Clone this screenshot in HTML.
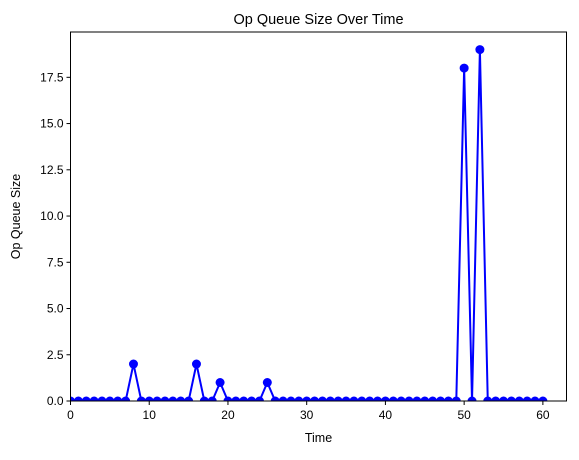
<!DOCTYPE html>
<html><head><meta charset="utf-8"><style>body{margin:0;background:#fff}svg{font-family:"Liberation Sans","DejaVu Sans",sans-serif}</style></head>
<body>
<svg id="c" width="579" height="455" xmlns="http://www.w3.org/2000/svg"></svg>
<script>
const times = Array.from({length:61},(_,i)=>i);
const queueSizes = [0,0,0,0,0,0,0,0,2,0,0,0,0,0,0,0,2,0,0,1,0,0,0,0,0,1,0,0,0,0,0,0,0,0,0,0,0,0,0,0,0,0,0,0,0,0,0,0,0,0,18,0,19,0,0,0,0,0,0,0,0];
const xTicks = [0,10,20,30,40,50,60];
const yTicks = [0,2.5,5,7.5,10,12.5,15,17.5];
const yTickLabels = ["0.0","2.5","5.0","7.5","10.0","12.5","15.0","17.5"];
const L=70.5,R=566.5,T=32,B=401, xMin=0,xMax=63,yMin=0,yMax=19.95;
const sx=v=>L+(v-xMin)/(xMax-xMin)*(R-L);
const sy=v=>B-(v-yMin)/(yMax-yMin)*(B-T);
const svg=document.getElementById('c');const NS='http://www.w3.org/2000/svg';
function mk(t,a,p){const e=document.createElementNS(NS,t);for(const k in a)e.setAttribute(k,a[k]);(p||svg).appendChild(e);return e;}
const clip=mk('clipPath',{id:'cp'});mk('rect',{x:L,y:T,width:R-L,height:B-T},clip);
const g=mk('g',{'clip-path':'url(#cp)'});
const line=mk('polyline',{points:times.map((t,i)=>sx(t)+','+sy(queueSizes[i])).join(' '),fill:'none',stroke:'#0000ff','stroke-width':2},g);


times.forEach((t,i)=>{const c=mk('circle',{cx:sx(t),cy:sy(queueSizes[i]),r:4.5,fill:'#0000ff'},g);

});
const f=mk('rect',{x:L,y:T,width:R-L,height:B-T,fill:'none',stroke:'#000','stroke-width':1});


xTicks.forEach(v=>{mk('line',{x1:sx(v),x2:sx(v),y1:B,y2:B+4,stroke:'#000'});
const t=mk('text',{x:sx(v),y:B+18,'text-anchor':'middle','font-size':12});t.textContent=v;

});
yTicks.forEach((v,i)=>{mk('line',{x1:L-4,x2:L,y1:sy(v),y2:sy(v),stroke:'#000'});
const t=mk('text',{x:L-7,y:sy(v)+4,'text-anchor':'end','font-size':12});t.textContent=yTickLabels[i];

});
let t=mk('text',{x:(L+R)/2,y:24,'text-anchor':'middle','font-size':14.5});t.textContent='Op Queue Size Over Time';


t=mk('text',{x:(L+R)/2,y:442,'text-anchor':'middle','font-size':12.5});t.textContent='Time';


t=mk('text',{x:20,y:(T+B)/2,'text-anchor':'middle','font-size':12.5,transform:'rotate(-90 20 '+(T+B)/2+')'});t.textContent='Op Queue Size';


</script>
</body></html>
